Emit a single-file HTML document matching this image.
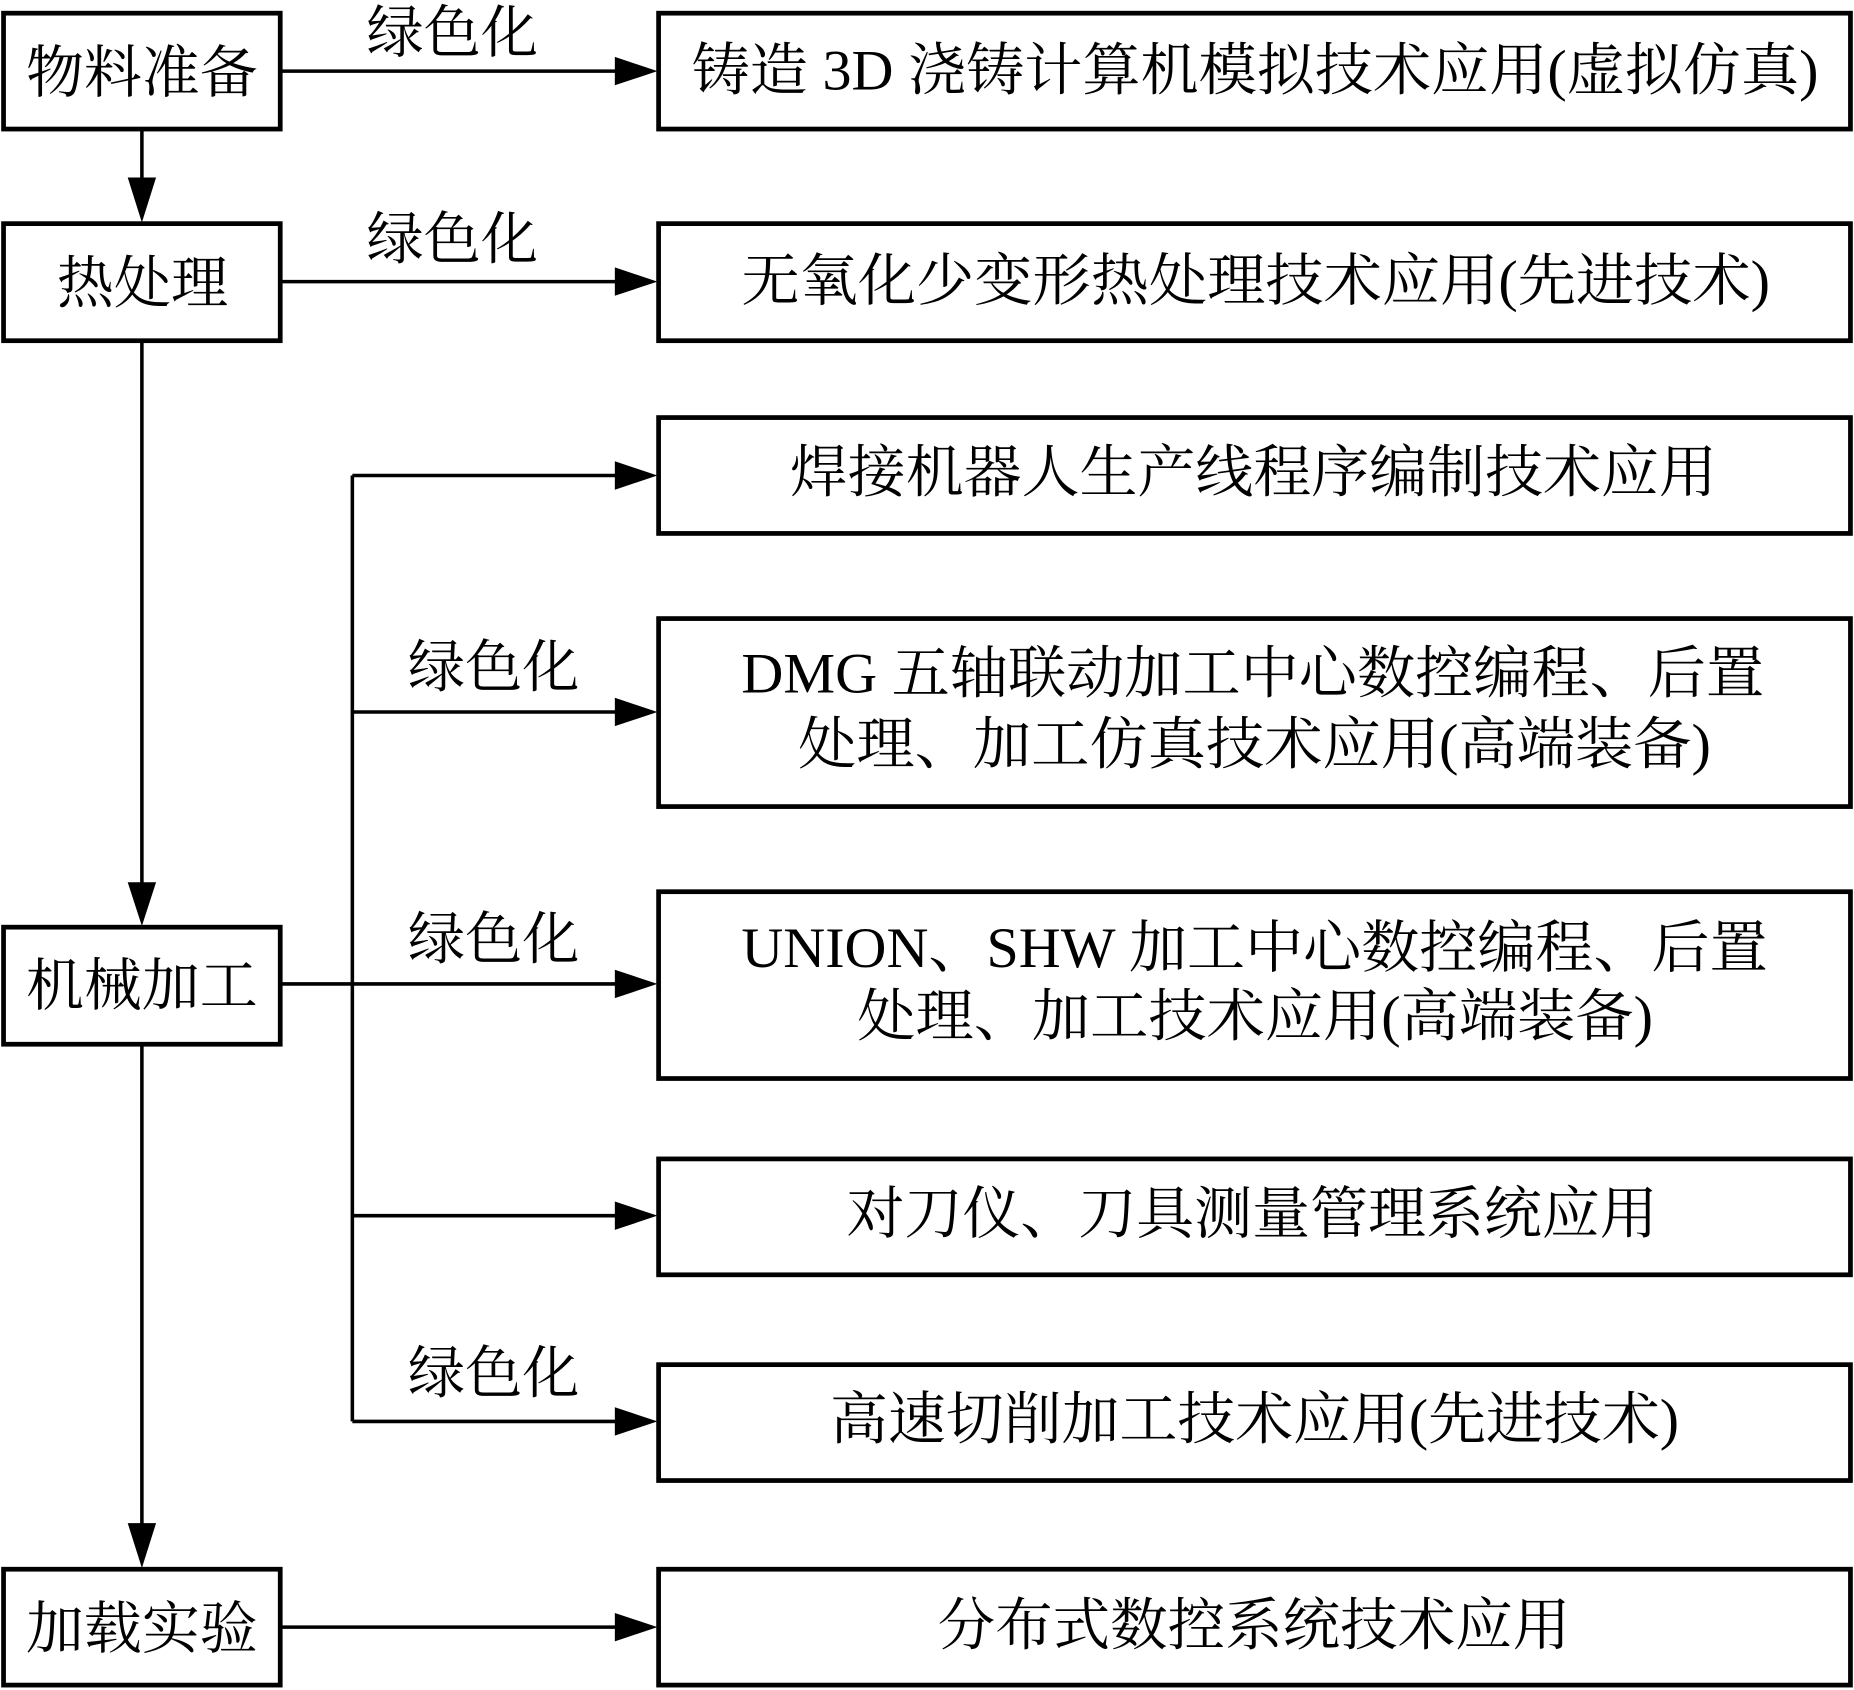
<!DOCTYPE html>
<html><head><meta charset="utf-8"><style>html,body{margin:0;padding:0;background:#fff}svg{display:block}</style></head>
<body>
<svg width="1854" height="1690" viewBox="0 0 1568 1429" xmlns="http://www.w3.org/2000/svg" font-family="'Liberation Serif','Noto Serif CJK SC',serif" font-size="48" fill="#000">
<defs><marker id="a" markerWidth="12" markerHeight="10" refX="12" refY="5" orient="auto" markerUnits="userSpaceOnUse" viewBox="0 0 12 10"><path d="M0,0 L12,5 L0,10 Z"/></marker></defs>
<g fill="none" stroke="#000" stroke-width="4">
<rect x="3" y="11" width="234" height="98"/>
<rect x="3" y="189" width="234" height="99"/>
<rect x="3" y="784" width="234" height="99"/>
<rect x="3" y="1327" width="234" height="98"/>
<rect x="557" y="11" width="1008" height="98"/>
<rect x="557" y="189" width="1008" height="99"/>
<rect x="557" y="353" width="1008" height="98"/>
<rect x="557" y="523" width="1008" height="159"/>
<rect x="557" y="754" width="1008" height="158"/>
<rect x="557" y="980" width="1008" height="98"/>
<rect x="557" y="1154" width="1008" height="98"/>
<rect x="557" y="1327" width="1008" height="98"/>
<g stroke-width="3">
<line x1="238" y1="60" x2="522" y2="60"/>
<line x1="238" y1="238" x2="522" y2="238"/>
<line x1="238" y1="1376" x2="522" y2="1376"/>
<line x1="238" y1="832" x2="298" y2="832"/>
<line x1="298" y1="402" x2="298" y2="1202"/>
<line x1="298" y1="402" x2="522" y2="402"/>
<line x1="298" y1="602" x2="522" y2="602"/>
<line x1="298" y1="832" x2="522" y2="832"/>
<line x1="298" y1="1028" x2="522" y2="1028"/>
<line x1="298" y1="1202" x2="522" y2="1202"/>
<line x1="120" y1="110" x2="120" y2="152"/>
<line x1="120" y1="289" x2="120" y2="748"/>
<line x1="120" y1="884" x2="120" y2="1290"/>
</g>
</g>
<g>
<path d="M520,48 L556,60 L520,72 Z"/>
<path d="M520,226 L556,238 L520,250 Z"/>
<path d="M520,390 L556,402 L520,414 Z"/>
<path d="M520,590 L556,602 L520,614 Z"/>
<path d="M520,820 L556,832 L520,844 Z"/>
<path d="M520,1016 L556,1028 L520,1040 Z"/>
<path d="M520,1190 L556,1202 L520,1214 Z"/>
<path d="M520,1364 L556,1376 L520,1388 Z"/>
<path d="M108,150 L120,188 L132,150 Z"/>
<path d="M108,746 L120,783 L132,746 Z"/>
<path d="M108,1288 L120,1326 L132,1288 Z"/>
</g>
<g dominant-baseline="central" lengthAdjust="spacingAndGlyphs">
<text x="22" y="62" textLength="196" lengthAdjust="spacingAndGlyphs">物料准备</text>
<text x="48" y="240" textLength="145" lengthAdjust="spacingAndGlyphs">热处理</text>
<text x="22" y="834" textLength="196" lengthAdjust="spacingAndGlyphs">机械加工</text>
<text x="22" y="1378" textLength="196" lengthAdjust="spacingAndGlyphs">加载实验</text>
<text x="310" y="28" textLength="145" lengthAdjust="spacingAndGlyphs">绿色化</text>
<text x="310" y="203" textLength="145" lengthAdjust="spacingAndGlyphs">绿色化</text>
<text x="345" y="565" textLength="145" lengthAdjust="spacingAndGlyphs">绿色化</text>
<text x="345" y="795" textLength="145" lengthAdjust="spacingAndGlyphs">绿色化</text>
<text x="345" y="1162" textLength="145" lengthAdjust="spacingAndGlyphs">绿色化</text>
<text x="585" y="60" textLength="953" lengthAdjust="spacingAndGlyphs">铸造 3D 浇铸计算机模拟技术应用(虚拟仿真)</text>
<text x="627" y="238" textLength="870" lengthAdjust="spacingAndGlyphs">无氧化少变形热处理技术应用(先进技术)</text>
<text x="668" y="400" textLength="784" lengthAdjust="spacingAndGlyphs">焊接机器人生产线程序编制技术应用</text>
<text x="627" y="570" textLength="865" lengthAdjust="spacingAndGlyphs">DMG 五轴联动加工中心数控编程、后置</text>
<text x="675" y="630" textLength="772" lengthAdjust="spacingAndGlyphs">处理、加工仿真技术应用(高端装备)</text>
<text x="627" y="802" textLength="868" lengthAdjust="spacingAndGlyphs">UNION、SHW 加工中心数控编程、后置</text>
<text x="725" y="860" textLength="673" lengthAdjust="spacingAndGlyphs">处理、加工技术应用(高端装备)</text>
<text x="716" y="1027" textLength="686" lengthAdjust="spacingAndGlyphs">对刀仪、刀具测量管理系统应用</text>
<text x="702" y="1201" textLength="718" lengthAdjust="spacingAndGlyphs">高速切削加工技术应用(先进技术)</text>
<text x="793" y="1375" textLength="535" lengthAdjust="spacingAndGlyphs">分布式数控系统技术应用</text>
</g>
</svg>
</body></html>
